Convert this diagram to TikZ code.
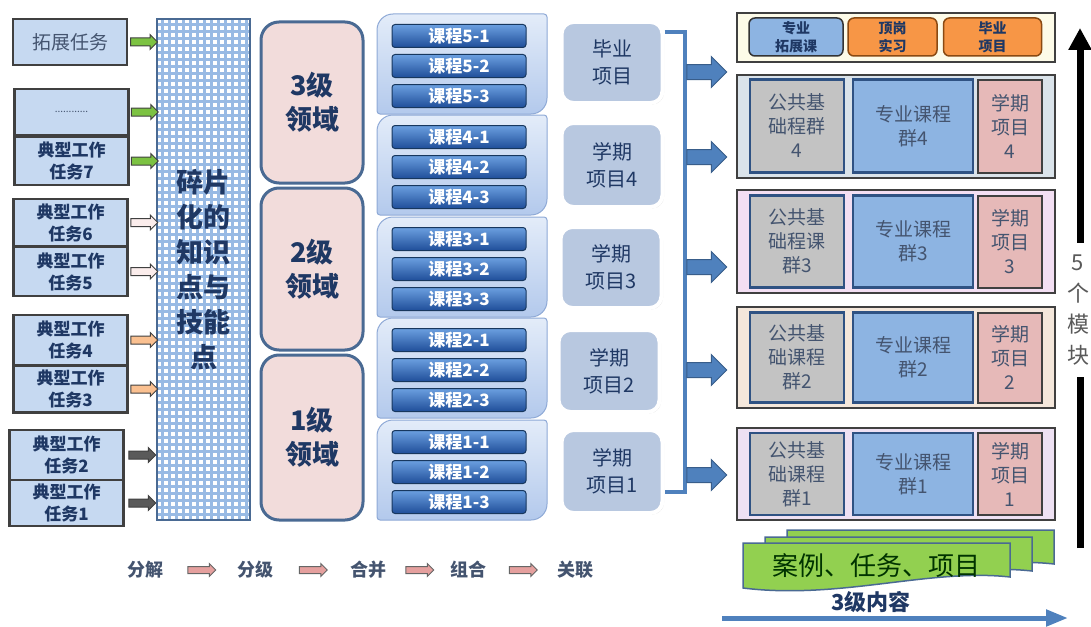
\documentclass[tikz,border=0pt]{standalone}
\usepackage{fontspec}
\setmainfont{Noto Sans CJK SC}
\usetikzlibrary{positioning}
\usetikzlibrary{arrows.meta}
\usetikzlibrary{shapes.arrows}
\usetikzlibrary{shadows}

\definecolor{navy}{HTML}{1F3864}
\definecolor{slate}{HTML}{44546F}
\definecolor{taskblue}{HTML}{C6D9F1}
\definecolor{gridblue}{HTML}{98BAE4}
\definecolor{framegray}{HTML}{4A6A93}
\definecolor{lvlpink}{HTML}{F2DCDB}
\definecolor{crsline}{HTML}{17375E}
\definecolor{crstop}{HTML}{6B9FE0}
\definecolor{crsbot}{HTML}{1F4E99}
\definecolor{grpline}{HTML}{8EA9D6}
\definecolor{grptop}{HTML}{E3ECF9}
\definecolor{grpbot}{HTML}{B3C9EC}
\definecolor{prjblue}{HTML}{B8C8E0}
\definecolor{arrowblue}{HTML}{4F81BD}
\definecolor{arrowdark}{HTML}{385D8A}
\definecolor{cellline}{HTML}{2F5283}
\definecolor{cgray}{HTML}{C3C3C3}
\definecolor{cblue}{HTML}{8DB4E2}
\definecolor{cpink}{HTML}{E6B9B8}
\definecolor{corange}{HTML}{F79646}
\definecolor{orangeline}{HTML}{8A4A12}
\definecolor{docgreen}{HTML}{92D050}
\definecolor{arrowpink}{HTML}{E5A09E}
\definecolor{taskgreen}{HTML}{7CC242}
\definecolor{taskpeach}{HTML}{FAC090}
\definecolor{taskwhite}{HTML}{FBEDEC}
\definecolor{taskdark}{HTML}{5A5A5A}
\definecolor{cream}{HTML}{FDFBE8}
\definecolor{modfourfill}{HTML}{DAE3EA}
\definecolor{modthreefill}{HTML}{F3DFF3}
\definecolor{modtwofill}{HTML}{F4E7DB}
\definecolor{modonefill}{HTML}{EEE1F3}

\begin{document}
\begin{tikzpicture}[x=1pt,y=-1pt,
    taskbox/.style={draw=black!75, line width=2.5, fill=taskblue, inner sep=0, minimum width=114, text=navy, align=center, font=\bfseries\fontsize{17}{22}\selectfont},
    tarrow/.style={single arrow, draw=black!75, line width=1, fill=#1, inner xsep=0, inner ysep=3.5, minimum height=27, single arrow head extend=3.5},
    lvlbox/.style={draw=framegray, line width=3, fill=lvlpink, rounded corners=18, inner sep=0, minimum width=102, text=navy, align=center, font=\bfseries\fontsize{27}{34}\selectfont},
    course/.style={draw=crsline, line width=1, rounded corners=3, top color=crstop, bottom color=crsbot, inner sep=0, minimum width=134, minimum height=23, text=white, font=\bfseries\fontsize{17}{17}\selectfont},
    project/.style={draw=white, line width=4, fill=prjblue, rounded corners=12, inner sep=0, minimum width=101, text=navy, align=center, font=\fontsize{20}{27}\selectfont, drop shadow={shadow xshift=1.5pt, shadow yshift=-1.5pt, opacity=0.3}},
    bigarrow/.style={single arrow, draw=arrowdark, line width=1, fill=arrowblue, inner xsep=0, inner ysep=7, minimum height=40, single arrow head extend=8},
    band/.style={draw=black!75, line width=2, inner sep=0, minimum width=318, fill=#1},
    modcell/.style={draw=cellline, line width=2.5, fill=#1, inner sep=0, text=slate, align=center, font=\fontsize{19}{24}\selectfont},
    toptag/.style={draw=#1, line width=1.5, rounded corners=6, inner sep=0, minimum height=38, text=navy, align=center, font=\bfseries\fontsize{14}{18}\selectfont},
    steptext/.style={text=slate, font=\bfseries\fontsize{18}{18}\selectfont},
    pinkarrow/.style={single arrow, draw=black!60, line width=1, fill=arrowpink, inner xsep=0, inner ysep=3, minimum height=28, single arrow head extend=3},
  ]
    \useasboundingbox (0,0) rectangle (1091,626);

    \node[taskbox, minimum height=46, font=\fontsize{19}{22}\selectfont, text=slate] (tx) at (70,42) {拓展任务};
    \node[taskbox, minimum height=46, font=\fontsize{10}{10}\selectfont, text=slate] (tdots) at (71.5,112) {............};
    \foreach \n/\x/\y/\h in {7/71.5/161/48, 6/70.5/222.5/47, 5/70.5/271.5/49, 4/70.5/340/50, 3/70.5/389/47, 2/66.5/455/50, 1/66.5/503/46}
        \node[taskbox, minimum height=\h] (t\n) at (\x,\y) {典型工作\\任务\n};

    \node[draw=framegray, line width=2.5, fill=white, minimum width=93, minimum height=501, inner sep=0,
          path picture={\draw[gridblue, line width=2.8, step=7pt] (path picture bounding box.south west) grid (path picture bounding box.north east);},
          text=navy, align=center, font=\bfseries\fontsize{27}{35}\selectfont] (frag) at (203.5,269.5) {碎片\\化的\\知识\\点与\\技能\\点};

    \foreach \n/\c in {x/taskgreen, dots/taskgreen, 7/taskgreen, 6/taskwhite, 5/taskwhite, 4/taskpeach, 3/taskpeach, 2/taskdark, 1/taskdark}
        \path (t\n.east) -- (t\n.east -| frag.west) node[midway, tarrow=\c] {};

    \node[lvlbox, minimum height=161] (lvl3) at (312,102.5) {3级\\领域};
    \node[lvlbox, minimum height=162] (lvl2) at (312,269) {2级\\领域};
    \node[lvlbox, minimum height=165] (lvl1) at (312,437.5) {1级\\领域};

    \foreach \g/\t in {5/14, 4/115, 3/217, 2/318, 1/420}
        \draw[grpline, line width=1, top color=grptop, bottom color=grpbot]
            (462,\t) [rounded corners=3] -- (547,\t) [rounded corners=16] -- (547,\t+100)
            [rounded corners=3] -- (377,\t+100) [rounded corners=16] -- (377,\t) [rounded corners=3] -- cycle;
    \foreach \g/\t in {5/14, 4/115, 3/217, 2/318, 1/420}
        \foreach \k in {1,2,3}
            \node[course] (c\g\k) at (459,\t+22+30*\k-30) {课程\g-\k};

    \node[project, minimum height=81] (prj5) at (612,62.5) {毕业\\项目};
    \node[project, minimum height=84] (prj4) at (612,165) {学期\\项目4};
    \node[project, minimum height=81] (prj3) at (611,267.5) {学期\\项目3};
    \node[project, minimum height=82] (prj2) at (609,371) {学期\\项目2};
    \node[project, minimum height=83] (prj1) at (612,471.5) {学期\\项目1};

    \coordinate (bt) at ([yshift=30.5pt]prj5.east);
    \coordinate (bb) at ([yshift=-20.5pt]prj1.east);
    \draw[arrowblue, line width=4] (bt) -- ++(20,0) |- (bb);
    \foreach \y [count=\i] in {72,157,267,370,475}
        \node[bigarrow] (ba\i) at (703,\y) {};

    \node[band=cream, minimum height=49] (mtop) at (896,37.5) {};
    \node[toptag=black!80, fill=cblue, minimum width=94] (tg1) at (796,37) {专业\\拓展课};
    \node[toptag=orangeline, fill=corange, minimum width=89] (tg2) at (892.5,37) {顶岗\\实习};
    \node[toptag=orangeline, fill=corange, minimum width=98] (tg3) at (992.5,37) {毕业\\项目};

    \foreach \m/\y/\h/\ch/\f/\gt in {4/126/103/93/modfourfill/{公共基\\础程群\\4}, 3/241.5/103/92/modthreefill/{公共基\\础程课\\群3}, 2/357.5/101/90/modtwofill/{公共基\\础课程\\群2}, 1/474/92/82/modonefill/{公共基\\础课程\\群1}}{
        \node[band=\f, minimum height=\h] (mod\m) at (896,\y) {};
        \node[modcell=cgray, minimum width=94, minimum height=\ch] (pub\m) at (797,\y) {\gt};
        \node[modcell=cblue, minimum width=120, minimum height=\ch] (pro\m) at (913,\y) {专业课程\\群\m};
        \node[modcell=cpink, draw=black!75, line width=2, minimum width=64, minimum height=\ch] (sem\m) at (1010,\y) {学期\\项目\\\m};
    }

    \foreach \dx/\dy in {44/-13, 22/-6, 0/0}
        \draw[framegray, line width=1.5, fill=docgreen]
            (743+\dx,543+\dy) -- (1010+\dx,543+\dy) -- (1010+\dx,577+\dy)
            .. controls (930+\dx,568+\dy) and (840+\dx,600+\dy) .. (743+\dx,588+\dy) -- cycle;
    \node[text=black!80!green, font=\fontsize{26}{26}\selectfont] (cases) at (876,566) {案例、任务、项目};

    \node[text=navy, font=\bfseries\fontsize{22}{22}\selectfont] (three) at (871,602) {3级内容};
    \coordinate (cl) at (722,618);
    \coordinate (cr) at (1068,618);
    \draw[arrowblue, line width=5, -{Triangle[length=22pt, width=16pt]}] (cl) -- (cr);

    \node[text=black!65, align=center, inner xsep=0, inner ysep=12, font=\fontsize{22}{31}\selectfont] (mods) at (1078,310) {5\\个\\模\\块};
    \coordinate (mup) at (1080,28);
    \coordinate (mdown) at (1080,548);
    \draw[line width=7] (mdown) -- (mdown |- mods.south);
    \draw[line width=7, -{Triangle[length=22pt, width=22pt]}] (mup |- mods.north) -- (mup);

    \node[steptext] (w1) at (145,570) {分解};
    \node[steptext] (w2) at (255,570) {分级};
    \node[steptext] (w3) at (368,570) {合并};
    \node[steptext] (w4) at (468,570) {组合};
    \node[steptext] (w5) at (575,570) {关联};
    \foreach \a/\b in {w1/w2, w2/w3, w3/w4, w4/w5}
        \path (\a) -- (\b) node[midway, pinkarrow] {};
\end{tikzpicture}
\end{document}
